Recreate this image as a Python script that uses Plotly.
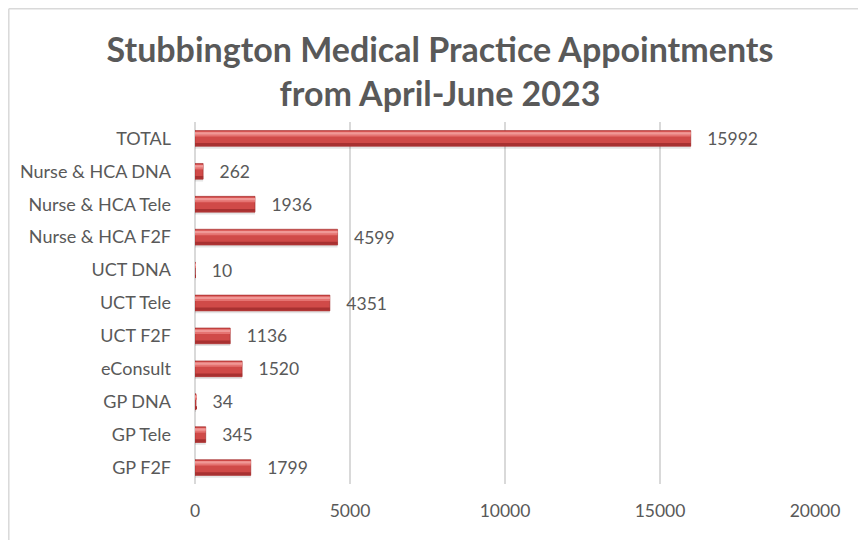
import plotly.graph_objects as go

categories = ["GP F2F", "GP Tele", "GP DNA", "eConsult", "UCT F2F", "UCT Tele",
              "UCT DNA", "Nurse & HCA F2F", "Nurse & HCA Tele", "Nurse & HCA DNA", "TOTAL"]
appointments = [1799, 345, 34, 1520, 1136, 4351, 10, 4599, 1936, 262, 15992]
x_ticks = [0, 5000, 10000, 15000, 20000]

FONT = "Lato, Open Sans, sans-serif"
GREY = "#595959"

# page body has an 8px margin; figure is sized so the page is filled
W, H = 858, 532
L, R, T, B = 187, 51, 114, 56
PW, PH = W - L - R, H - T - B

fig = go.Figure()
# soft shadow
fig.add_trace(go.Bar(y=categories, x=appointments, orientation="h",
                     width=0.5, offset=-0.31, marker=dict(color="rgba(0,0,0,0.10)", line=dict(width=0)),
                     hoverinfo="skip", showlegend=False))
# base bar
fig.add_trace(go.Bar(y=categories, x=appointments, orientation="h",
                     width=0.48, offset=-0.24,
                     marker=dict(color="#d04a48", line=dict(color="#9e2a2a", width=0.6)),
                     text=[f"   {v}" for v in appointments], textposition="outside",
                     constraintext="none",
                     textfont=dict(family=FONT, size=17.5, color=GREY), cliponaxis=False,
                     showlegend=False))
# dark lower band
fig.add_trace(go.Bar(y=categories, x=appointments, orientation="h",
                     width=0.09, offset=-0.23, marker=dict(color="#a83131", line=dict(width=0)),
                     hoverinfo="skip", showlegend=False))
# highlight upper bands
fig.add_trace(go.Bar(y=categories, x=appointments, orientation="h",
                     width=0.14, offset=0.06, marker=dict(color="#e57371", line=dict(width=0)),
                     hoverinfo="skip", showlegend=False))
fig.add_trace(go.Bar(y=categories, x=appointments, orientation="h",
                     width=0.07, offset=0.12, marker=dict(color="#f09896", line=dict(width=0)),
                     hoverinfo="skip", showlegend=False))

fig.update_layout(
    barmode="overlay",
    width=W, height=H,
    margin=dict(l=L, r=R, t=T, b=B, autoexpand=False),
    paper_bgcolor="white", plot_bgcolor="white",
    font=dict(family=FONT, color=GREY),
    title=dict(text="<b>Stubbington Medical Practice Appointments<br>from April-June 2023</b>",
               x=(440 - 8) / W, xanchor="center", y=1 - (62 - 8) / H, yanchor="middle",
               font=dict(family=FONT, size=34, color=GREY)),
    xaxis=dict(range=[0, 20000], tickvals=x_ticks, ticktext=[str(t) for t in x_ticks],
               showgrid=True, gridcolor="#d9d9d9", gridwidth=1.5,
               zeroline=True, zerolinecolor="#d9d9d9", zerolinewidth=1.5,
               showline=False, ticks="", ticklabelstandoff=14,
               tickfont=dict(family=FONT, size=17.5, color=GREY)),
    yaxis=dict(range=[-0.5, 10.5], showgrid=False, zeroline=False, showline=False,
               ticks="", ticklabelstandoff=23,
               tickfont=dict(family=FONT, size=18, color=GREY)),
    shapes=[
        dict(type="line", xref="paper", yref="paper", x0=(0.8 - L) / PW, x1=1.2,
             y0=(H - B - 0.8) / PH, y1=(H - B - 0.8) / PH,
             line=dict(color="#d9d9d9", width=1.5)),
        dict(type="line", xref="paper", yref="paper", x0=(0.8 - L) / PW, x1=(0.8 - L) / PW,
             y0=(H - B - 0.8) / PH, y1=-0.3,
             line=dict(color="#d9d9d9", width=1.5)),
    ],
)

fig.write_html("out.html")
